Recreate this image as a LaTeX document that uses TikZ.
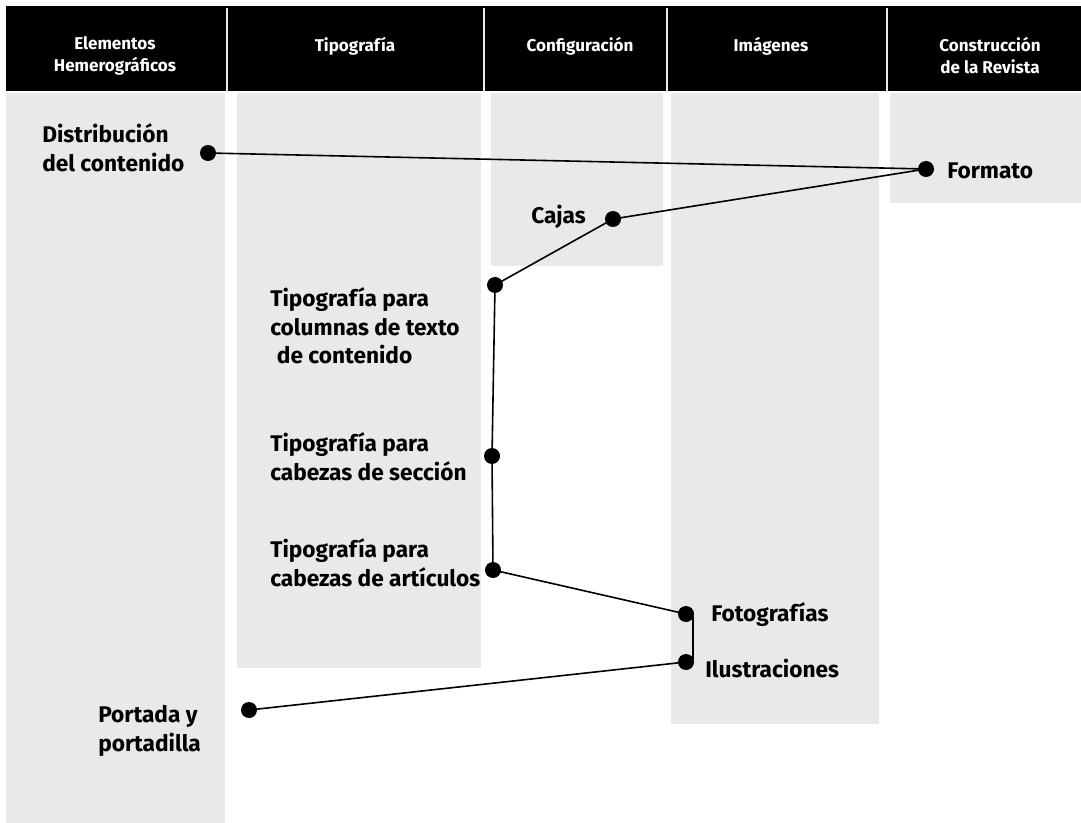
\documentclass[tikz,border=0pt]{standalone}
\usepackage{fontspec}
\setmainfont{Fira Sans}
\usetikzlibrary{calc}
\definecolor{colgray}{HTML}{E9E9E9}
\tikzset{
  dot/.style={circle,fill=black,inner sep=0pt,minimum size=12pt},
  lbl/.style={anchor=west,inner sep=0pt,align=left,font=\fontsize{17}{21.5}\selectfont\bfseries},
  hdr/.style={text=white,inner sep=0pt,align=center,font=\fontsize{12.8}{16.5}\selectfont\bfseries},
  conn/.style={line width=1.2pt},
  colbox/.style={fill=colgray,draw=none},
  sep/.style={draw=white!85!gray,line width=1.3pt}
}
\begin{document}
\begin{tikzpicture}[x=0.75pt,y=-0.75pt]
\useasboundingbox[fill=white] (0,0) rectangle (1081,823);
% header
\fill[black] (6,6) rectangle (1081,91);
\draw[sep] (227,8) -- (227,91);
\draw[sep] (484,8) -- (484,91);
\draw[sep] (667,8) -- (667,91);
\draw[sep] (887,8) -- (887,91);
% columns
\fill[colbox] (6,93) rectangle (225,823);
\fill[colbox] (237,93) rectangle (481,668);
\fill[colbox] (491,93) rectangle (663,266);
\fill[colbox] (671,93) rectangle (879,724);
\fill[colbox] (890,93) rectangle (1081,203);
% header texts
\node[hdr] (h1) at (115,56) {Elementos\\Hemerográficos};
\node[hdr] (h2) at (355,46) {Tipografía};
\node[hdr] (h3) at (580,46) {Configuración};
\node[hdr] (h4) at (771,46) {Imágenes};
\node[hdr] (h5) at (990,56) {Construcción\\de la Revista};
% dots
\node[dot] (A) at (208,153) {};
\node[dot] (B) at (926,169) {};
\node[dot] (C) at (613,219) {};
\node[dot] (D) at (495,285) {};
\node[dot] (E) at (492,456) {};
\node[dot] (F) at (493,570) {};
\node[dot] (G) at (686,614) {};
\node[dot] (H) at (686,662) {};
\node[dot] (I) at (249,710) {};
% labels
\node[lbl] (tA) at (42,148) {Distribución\\del contenido};
\node[lbl] (tB) at (947,171) {Formato};
\node[lbl] (tC) at (531,217) {Cajas};
\node[lbl] (tD) at (270,326) {Tipografía para\\columnas de texto\\\hspace*{5pt}de contenido};
\node[lbl] (tE) at (270,457) {Tipografía para\\cabezas de sección};
\node[lbl] (tF) at (270,563) {Tipografía para\\cabezas de artículos};
\node[lbl] (tG) at (711,615) {Fotografías};
\node[lbl] (tH) at (705,668) {Ilustraciones};
\node[lbl] (tI) at (98,731) {Portada y\\portadilla};
% connectors
\draw[conn] (A.center) -- (B.center);
\draw[conn] (B.center) -- (C.center);
\draw[conn] (C.center) -- (D.center);
\draw[conn] (D.center) -- (E.center);
\draw[conn] (E.center) -- (F.center);
\draw[conn] (F.center) -- (G.center);
\draw[conn] (G.center) -- ($(G.center)+(7,3)$) -- ($(H.center)+(7,-3)$) -- (H.center);
\draw[conn] (H.center) -- (I.center);
\end{tikzpicture}
\end{document}
